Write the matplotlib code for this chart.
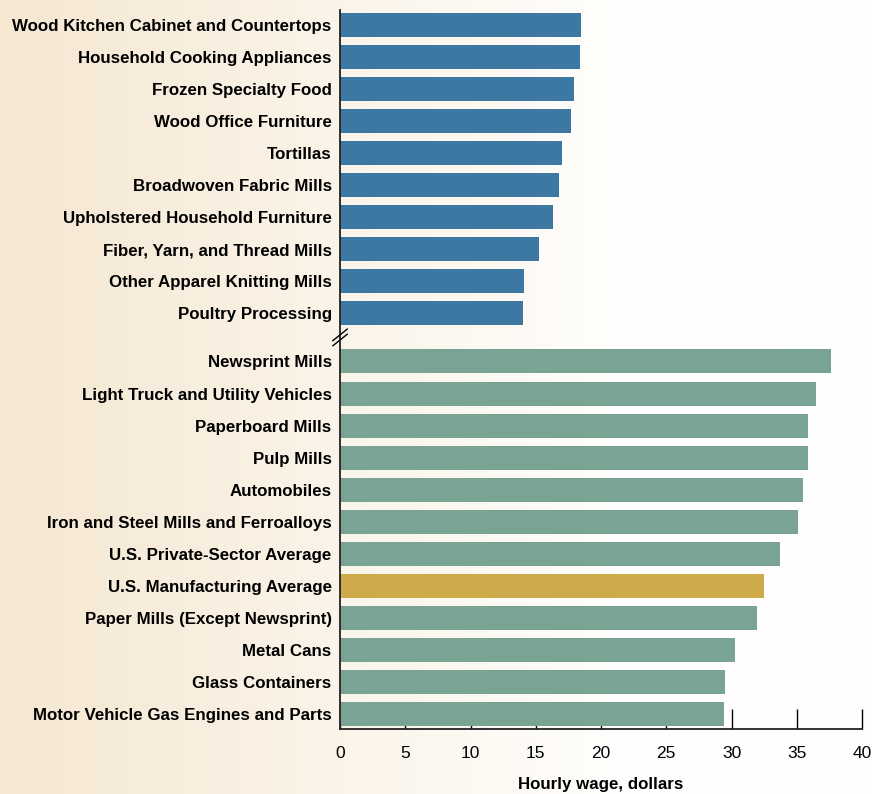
import matplotlib
matplotlib.use('Agg')
import matplotlib.pyplot as plt
from matplotlib.colors import LinearSegmentedColormap
import numpy as np

plt.rcParams['font.family'] = ['Liberation Sans', 'DejaVu Sans']

# low-wage group (top), drawn in blue
low_labels = [
    'Wood Kitchen Cabinet and Countertops',
    'Household Cooking Appliances',
    'Frozen Specialty Food',
    'Wood Office Furniture',
    'Tortillas',
    'Broadwoven Fabric Mills',
    'Upholstered Household Furniture',
    'Fiber, Yarn, and Thread Mills',
    'Other Apparel Knitting Mills',
    'Poultry Processing',
]
low_values = [18.47, 18.39, 17.93, 17.70, 16.98, 16.75, 16.32, 15.25, 14.10, 14.02]

# high-wage group (bottom), drawn in green, manufacturing average highlighted
high_labels = [
    'Newsprint Mills',
    'Light Truck and Utility Vehicles',
    'Paperboard Mills',
    'Pulp Mills',
    'Automobiles',
    'Iron and Steel Mills and Ferroalloys',
    'U.S. Private-Sector Average',
    'U.S. Manufacturing Average',
    'Paper Mills (Except Newsprint)',
    'Metal Cans',
    'Glass Containers',
    'Motor Vehicle Gas Engines and Parts',
]
high_values = [37.6, 36.5, 35.9, 35.9, 35.5, 35.1, 33.7, 32.5, 31.95, 30.3, 29.5, 29.4]
highlight = 'U.S. Manufacturing Average'

BLUE = '#3d78a3'
GREEN = '#79a393'
GOLD = '#cdaa4a'

fig = plt.figure(figsize=(8.73, 7.94), dpi=100)

# background: beige on the left fading to white
bg = fig.add_axes([0, 0, 1, 1], zorder=-10)
grad = np.linspace(0, 1, 256).reshape(1, -1)
cmap = LinearSegmentedColormap.from_list('bg', [(0, '#f5e7d1'), (0.7, '#fffefc'), (1, '#ffffff')])
bg.imshow(grad, aspect='auto', cmap=cmap, extent=[0, 1, 0, 1])
bg.axis('off')

ax = fig.add_axes([0.3895, 0.0819, 0.5979, 0.9055])
ax.set_facecolor('none')

low_pos = np.arange(len(low_labels))
high_pos = np.arange(len(high_labels)) + len(low_labels) + 0.5
high_colors = [GOLD if l == highlight else GREEN for l in high_labels]

ax.barh(low_pos, low_values, height=0.75, color=BLUE, zorder=2)
ax.barh(high_pos, high_values, height=0.75, color=high_colors, zorder=2)

ax.set_yticks(list(low_pos) + list(high_pos))
ax.set_yticklabels(low_labels + high_labels, fontsize=12.2, fontweight='bold')
ax.set_ylim(high_pos[-1] + 0.47, -0.47)
ax.set_xlim(0, 40)
ax.set_xticks(np.arange(0, 41, 5))
ax.tick_params(axis='x', direction='in', length=14.5, width=1, pad=12, labelsize=12.5)
ax.tick_params(axis='y', length=0, pad=6)
ax.set_axisbelow(True)

for side in ('top', 'right'):
    ax.spines[side].set_visible(False)
for side in ('left', 'bottom'):
    ax.spines[side].set_linewidth(1.3)
    ax.spines[side].set_color('#222222')

ax.set_xlabel('Hourly wage, dollars', fontsize=12.2, fontweight='bold', labelpad=12)

# axis break mark between the two groups
ybreak = len(low_labels) - 0.5 + 0.25
for dy in (-0.08, 0.08):
    ax.plot([-0.55, 0.55], [ybreak + dy + 0.18, ybreak + dy - 0.18],
            color='black', lw=1, clip_on=False, zorder=5)

fig.savefig('out.png', dpi=100)
